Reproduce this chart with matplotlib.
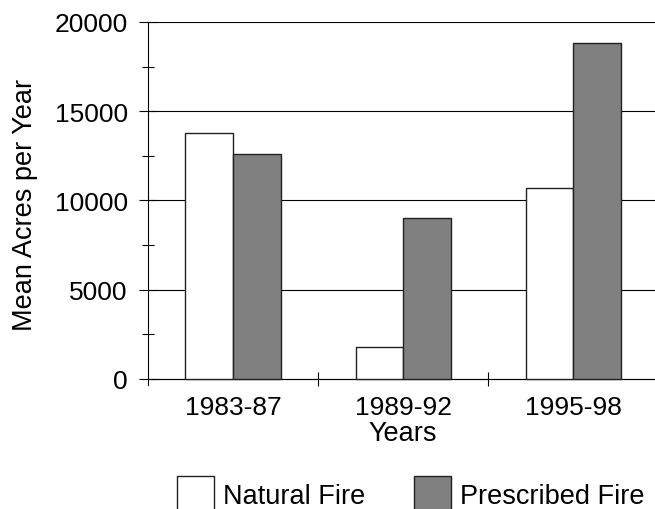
import matplotlib
matplotlib.use("Agg")
import matplotlib.pyplot as plt
from matplotlib.ticker import MultipleLocator, FixedLocator, NullFormatter
import numpy as np

categories = ["1983-87", "1989-92", "1995-98"]
natural_fire = [13800, 1800, 10700]
prescribed_fire = [12600, 9000, 18800]
series_labels = ["Natural Fire", "Prescribed Fire"]
y_ticks = [0, 5000, 10000, 15000, 20000]

plt.rcParams['font.family'] = ['Liberation Sans', 'DejaVu Sans']

fig = plt.figure(figsize=(6.55, 5.10), dpi=100)
ax_left, ax_right = 148 / 655, 658.3 / 655
ax_top, ax_bot = 1 - 23 / 510, 1 - 386 / 510
ax = fig.add_axes([ax_left, ax_bot, ax_right - ax_left, ax_top - ax_bot])
axw_px = 655 * (ax_right - ax_left)
axh_px = 510 * (ax_top - ax_bot)

x = np.arange(len(categories))
w = 0.28
b1 = ax.bar(x - w / 2, natural_fire, w, color='white', edgecolor='#222222', linewidth=1.0,
            label=series_labels[0], zorder=3)
b2 = ax.bar(x + w / 2, prescribed_fire, w, color='#808080', edgecolor='#222222', linewidth=1.0,
            label=series_labels[1], zorder=3)

ax.set_xlim(-0.5, 2.5)
ax.set_ylim(-350, 20000)

for s in ['top', 'right']:
    ax.spines[s].set_visible(False)
ax.spines['bottom'].set_position(('data', 0))
ax.spines['bottom'].set_linewidth(0.8)
ax.spines['left'].set_linewidth(0.8)

ax.yaxis.set_major_locator(FixedLocator(y_ticks))
ax.yaxis.set_minor_locator(MultipleLocator(2500))
ax.grid(axis='y', which='major', color='black', linewidth=0.8, zorder=1)
ax.tick_params(axis='y', which='major', direction='inout', length=13, width=0.8,
               labelsize=19, pad=8)
ax.tick_params(axis='y', which='minor', direction='inout', length=8.6, width=0.8)

ax.set_xticks([0.5, 1.5])
ax.xaxis.set_major_formatter(NullFormatter())
ax.set_xticks(x, categories, minor=True)
ax.tick_params(axis='x', which='major', direction='inout', length=10, width=0.8)
ax.tick_params(axis='x', which='minor', length=0, labelsize=19, pad=12)

ax.set_xlabel("Years", fontsize=19.5)
ax.set_ylabel("Mean Acres per Year", fontsize=19.5)
ax.yaxis.set_label_coords(-(148 - 38) / axw_px, 0.5)
ax.xaxis.label.set_verticalalignment('top')
ax.xaxis.set_label_coords((403 - 148) / axw_px, -(421 - 386) / axh_px)

leg = fig.legend(handles=[b1, b2], labels=series_labels, loc='upper left',
                 bbox_to_anchor=(172 / 655, 1 - 472 / 510), ncol=2, frameon=False,
                 fontsize=19.5, handlelength=1.35, handleheight=1.6,
                 handletextpad=0.35, columnspacing=1.8, borderaxespad=0, borderpad=0.2)

fig.savefig("out.png", dpi=100)
